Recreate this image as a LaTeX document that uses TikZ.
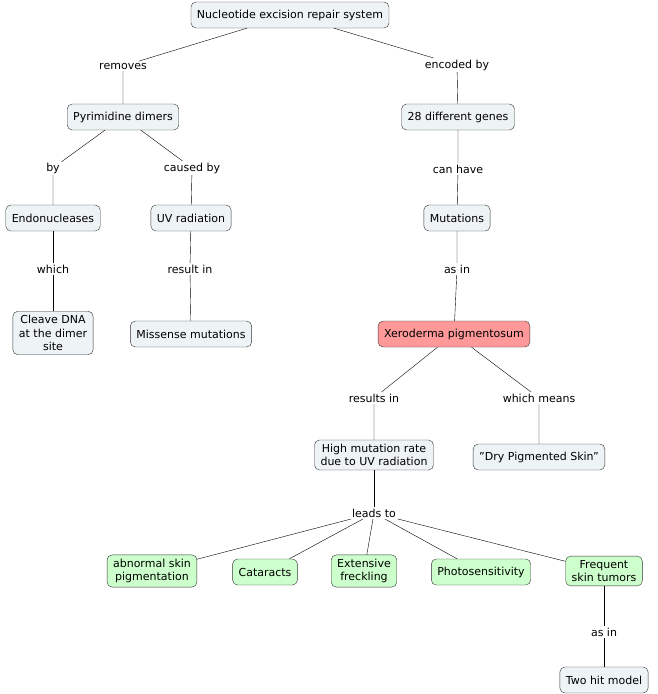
\documentclass[tikz,border=0pt]{standalone}
\usepackage{fontspec}
\setmainfont{DejaVu Sans}
\definecolor{boxfill}{HTML}{EEF3F6}
\begin{document}
\begin{tikzpicture}[x=1pt,y=-1pt,
  concept/.style={draw=black!80,rounded corners=5pt,fill=boxfill,inner xsep=6pt,inner ysep=4pt,
    font=\fontsize{11}{13.5}\selectfont,align=center,minimum height=26pt},
  sick/.style={concept,fill=red!40},
  effect/.style={concept,fill=green!20},
  link/.style={font=\fontsize{11}{13.5}\selectfont,fill=white,inner sep=1.5pt}]
\useasboundingbox (0,0) rectangle (658,694);
% concepts
\node[concept] (ner) at (290,15) {Nucleotide excision repair system};
\node[concept] (pyr) at (123,117) {Pyrimidine dimers};
\node[concept] (genes) at (458,117) {28 different genes};
\node[concept] (endo) at (53,218) {Endonucleases};
\node[concept] (uv) at (191,218) {UV radiation};
\node[concept] (mut) at (457,218) {Mutations};
\node[concept] (cleave) at (53,333) {Cleave DNA\\at the dimer\\site};
\node[concept] (miss) at (191,334) {Missense mutations};
\node[sick] (xp) at (454,334) {Xeroderma pigmentosum};
\node[concept] (high) at (374,455) {High mutation rate\\due to UV radiation};
\node[concept] (dry) at (539,457) {"Dry Pigmented Skin"};
\node[effect] (abn) at (152,571) {abnormal skin\\pigmentation};
\node[effect] (cat) at (265,572) {Cataracts};
\node[effect] (frk) at (364,571) {Extensive\\freckling};
\node[effect] (pho) at (481,572) {Photosensitivity};
\node[effect] (tum) at (604,571) {Frequent\\skin tumors};
\node[concept] (two) at (604,680) {Two hit model};
% links
\node[link] (l1) at (123,66) {removes};
\node[link] (l2) at (457,65) {encoded by};
\node[link] (l3) at (53,168) {by};
\node[link] (l4) at (192,168) {caused by};
\node[link] (l5) at (458,169) {can have};
\node[link] (l6) at (53,269) {which};
\node[link] (l7) at (190,269) {result in};
\node[link] (l8) at (457,269) {as in};
\node[link] (l9) at (374,398) {results in};
\node[link] (l10) at (539,398) {which means};
\node[link] (l11) at (374,513) {leads to};
\node[link] (l12) at (604,632) {as in};
% connectors
\draw (ner) -- (l1) -- (pyr);
\draw (ner) -- (l2) -- (genes);
\draw (pyr) -- (l3) -- (endo);
\draw (pyr) -- (l4) -- (uv);
\draw (genes) -- (l5) -- (mut);
\draw (endo) -- (l6) -- (cleave);
\draw (uv) -- (l7) -- (miss);
\draw (mut) -- (l8) -- (xp);
\draw (xp) -- (l9) -- (high);
\draw (xp) -- (l10) -- (dry);
\draw (high) -- (l11);
\foreach \e in {abn,cat,frk,pho,tum}
  \draw (l11) -- (\e);
\draw (tum) -- (l12) -- (two);
\end{tikzpicture}
\end{document}
